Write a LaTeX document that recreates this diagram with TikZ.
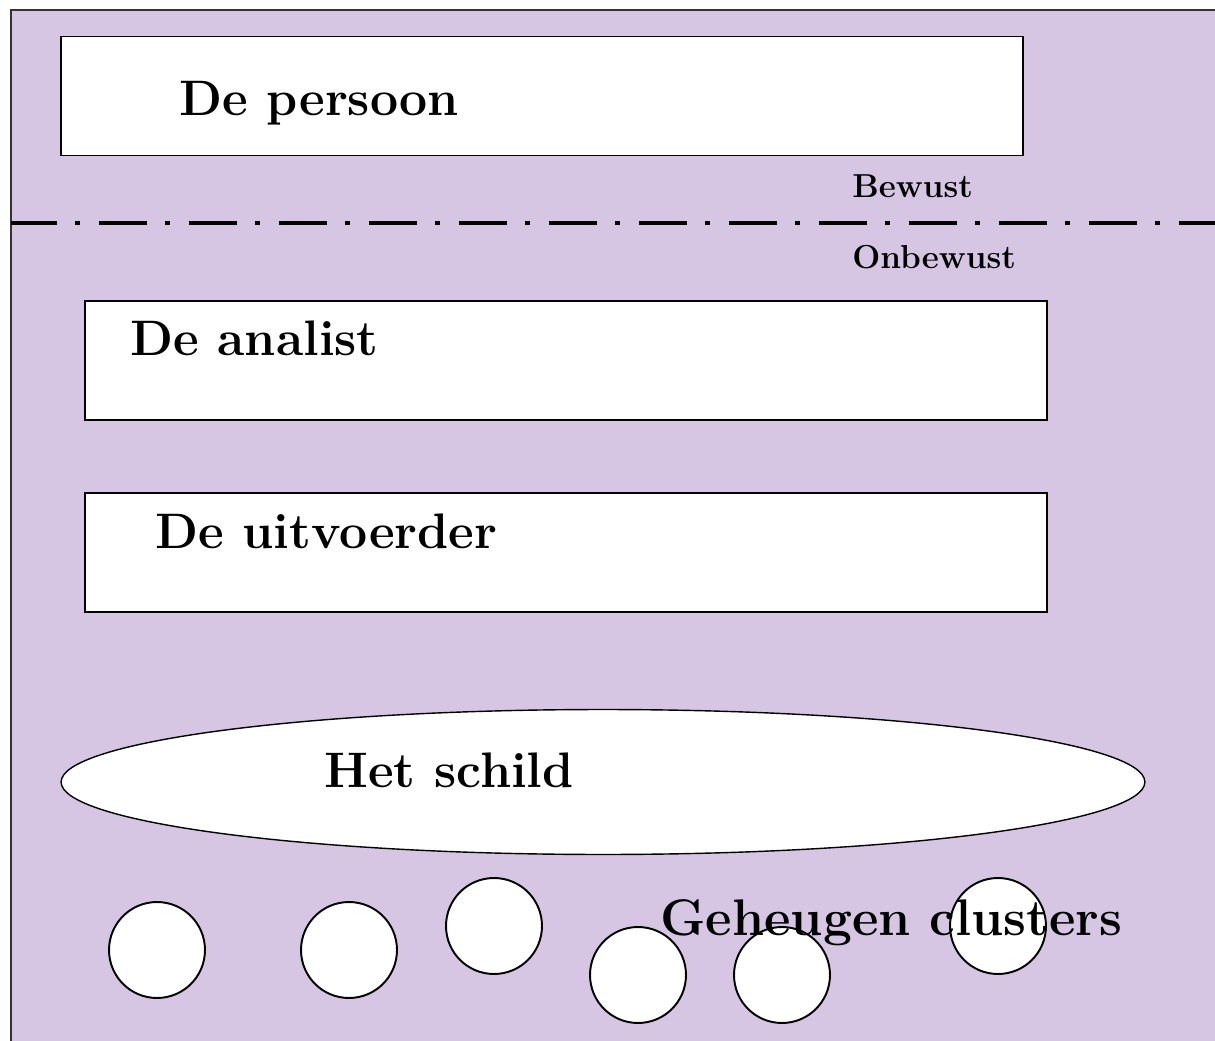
\documentclass[tikz,border=0pt]{standalone}
\usepackage{xcolor}
\usepackage{tikz}
\usetikzlibrary{positioning, shapes}
\definecolor{lavendel}{RGB}{214,198,227}

\begin{document}
\begin{tikzpicture}[
        x=0.02cm, y=-0.02cm,
        vak/.style={rectangle, draw, fill=white, line width=0.8pt, minimum width=19.24cm, minimum height=2.38cm, inner sep=0pt},
        titel/.style={anchor=base west, inner sep=0pt, font=\fontsize{28.4}{34}\selectfont\bfseries},
        grens/.style={anchor=base west, inner sep=0pt, font=\fontsize{18.9}{22}\selectfont\bfseries},
        cluster/.style={circle, draw, fill=white, line width=1.1pt, minimum size=1.92cm, inner sep=0pt}
    ]
    \useasboundingbox (0,0) rectangle (1215,1041);
    \fill[lavendel] (11,10) rectangle (1215,1041);
    \draw[black!80, line width=0.8pt] (11,1041) -- (11,10) -- (1215,10);

    % bewust / onbewust grens
    \coordinate (links) at (11,223);
    \coordinate (rechts) at (1215,223);
    \draw[line width=2.8pt, dash pattern=on 0.96cm off 0.37cm on 0.1cm off 0.37cm, dash phase=0.04cm] (links) -- (rechts);
    \node[grens] (bewust) at (852,197) {Bewust};
    \node[grens] (onbewust) at (852,268) {Onbewust};

    \node[vak] (vak1) at (542,96) {};
    \node[titel] (persoon) at (179,115) {De persoon};
    \node[vak] (vak2) at (566,360.5) {};
    \node[titel] (analist) at (130,355) {De analist};
    \node[vak] (vak3) at (566,552.5) {};
    \node[titel] (uitvoerder) at (155,548) {De uitvoerder};

    \node[ellipse, draw, fill=white, line width=0.8pt, minimum width=21.68cm, minimum height=2.9cm] (schild) at (603,782) {};
    \node[titel] (schildtekst) at (324,787) {Het schild};

    \foreach \naam/\x/\y in {c1/157/950, c2/349/950, c3/494/926, c4/638/975, c5/782/975, c6/998/926} {
        \node[cluster] (\naam) at (\x,\y) {};
    }
    \node[titel, font=\fontsize{29.3}{35}\selectfont\bfseries] (geheugen) at (660,935) {Geheugen clusters};
\end{tikzpicture}
\end{document}
